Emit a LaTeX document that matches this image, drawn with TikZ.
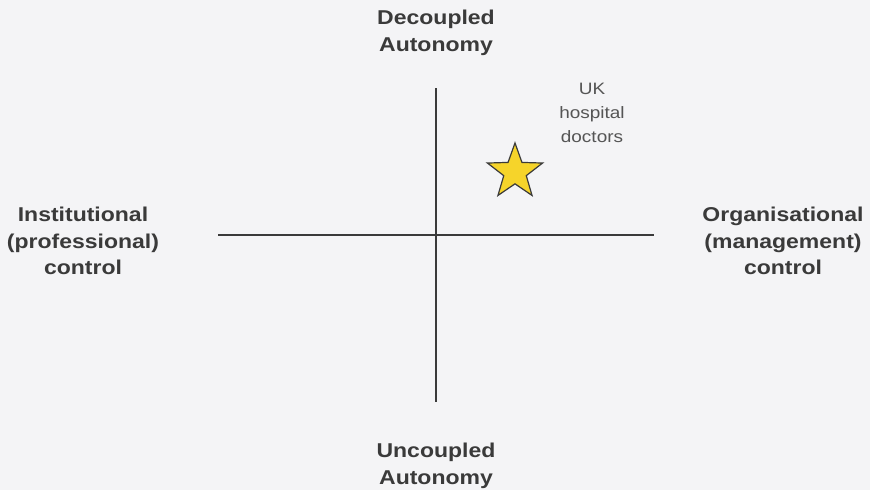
\documentclass[tikz,border=0pt]{standalone}
\usepackage{fontspec}
\setmainfont{Liberation Sans}[FakeStretch=1.15]
\usetikzlibrary{shapes.geometric}
\definecolor{bg}{HTML}{F4F4F6}
\definecolor{ink}{HTML}{3A3A3A}
\definecolor{txt}{HTML}{555555}
\definecolor{staryellow}{HTML}{F6D42A}
\tikzset{
  axislabel/.style={align=center,text=ink,font=\fontsize{20}{26.5}\selectfont\bfseries,inner sep=0pt},
  smalllabel/.style={align=center,text=txt,font=\fontsize{16.5}{24}\selectfont,inner sep=0pt},
  axis/.style={draw=ink,line width=1.3pt},
  starshape/.style={star,star points=5,star point ratio=2.45,minimum size=58pt,inner sep=0pt,fill=staryellow,draw=ink,line width=1.2pt}
}
\begin{document}
\begin{tikzpicture}[x=1pt,y=-1pt]
\fill[bg] (0,0) rectangle (870,490);
\useasboundingbox (0,0) rectangle (870,490);
\coordinate (vtop) at (436,88);
\coordinate (vbot) at (436,402);
\coordinate (hleft) at (218,235);
\coordinate (hright) at (654,235);
\draw[axis] (vtop) -- (vbot);
\draw[axis] (hleft) -- (hright);
\node[axislabel] (top) at (436,33) {Decoupled\\Autonomy};
\node[axislabel] (bottom) at (436,466) {Uncoupled\\Autonomy};
\node[axislabel] (left) at (83,241) {Institutional\\(professional)\\control};
\node[axislabel] (right) at (783,241) {Organisational\\(management)\\control};
\node[smalllabel] (uk) at (592,113) {UK\\hospital\\doctors};
\node[starshape] (star) at (515,172) {};
\end{tikzpicture}
\end{document}
